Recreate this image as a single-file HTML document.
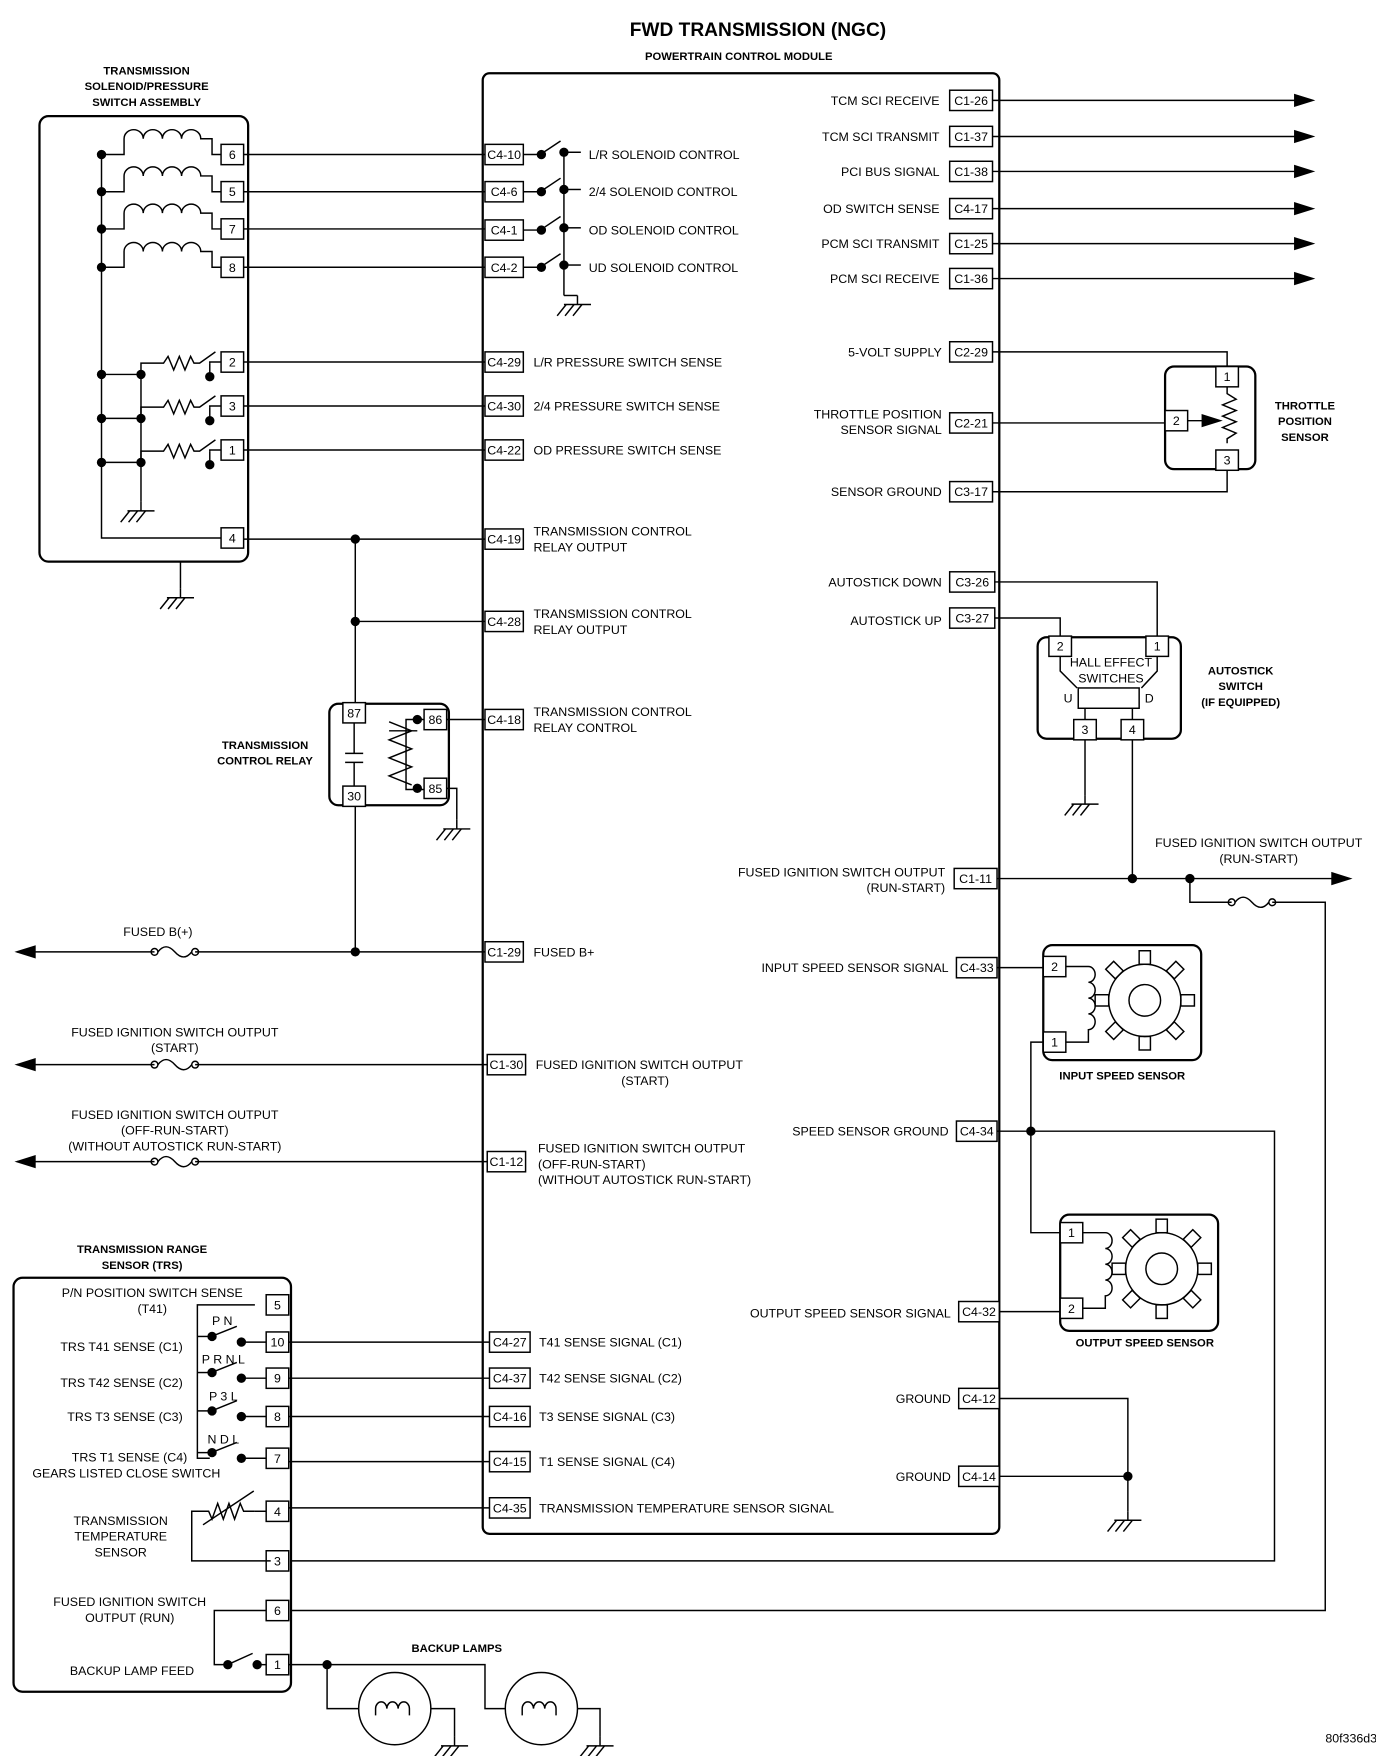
<!DOCTYPE html>
<html><head><meta charset="utf-8"><style>
html,body{margin:0;padding:0;background:#fff}
svg{display:block}
text{font-family:"Liberation Sans",sans-serif;font-size:11px;fill:#000}
</style></head><body>
<svg id="s" width="1376" height="1756" viewBox="0 0 1220 1557" preserveAspectRatio="none" xmlns="http://www.w3.org/2000/svg" fill="none" stroke="#000" stroke-width="1.3">
<text x="672" y="32" text-anchor="middle" style="font-size:17px;font-weight:bold" stroke="none">FWD TRANSMISSION (NGC)</text>
<text x="655" y="53" text-anchor="middle" style="font-size:10px;font-weight:bold" stroke="none">POWERTRAIN CONTROL MODULE</text>
<rect x="428" y="65" width="458" height="1295" rx="6" stroke-width="2"/>
<rect x="35" y="103" width="185" height="395" rx="8" stroke-width="2"/>
<rect x="12" y="1133" width="246" height="367" rx="8" stroke-width="2"/>
<rect x="292" y="624" width="106" height="90" rx="8" stroke-width="2"/>
<rect x="1033" y="325" width="80" height="91" rx="8" stroke-width="2"/>
<rect x="920" y="565" width="127" height="90" rx="8" stroke-width="2"/>
<rect x="925" y="838" width="140" height="102" rx="8" stroke-width="2"/>
<rect x="940" y="1077" width="140" height="103" rx="8" stroke-width="2"/>
</svg>
<script>
var S=document.getElementById('s'),NS='http://www.w3.org/2000/svg';
function el(t,a,txt){var e=document.createElementNS(NS,t);for(var k in a)e.setAttribute(k,a[k]);if(txt!=null)e.textContent=txt;S.appendChild(e);return e}
function L(p){el('polyline',{points:p})}
function T(x,y,s,a,b){el('text',{x:x,y:y,'text-anchor':a||'start',stroke:'none',style:b?'font-weight:bold;font-size:10px':''},s)}
function B(x,y,s,w){w=w||34;el('rect',{x:x,y:y-9,width:w,height:18,fill:'#fff'});T(x+w/2,y+4,s,'middle')}
function P(x,y,s){el('rect',{x:x-10,y:y-9,width:20,height:18,fill:'#fff'});T(x,y+4,s,'middle')}
function D(x,y){el('circle',{cx:x,cy:y,r:3.5,fill:'#000'})}
function G(x,y){L(x+','+(y-8)+' '+x+','+y);L((x-12)+','+y+' '+(x+12)+','+y);for(var i=-10;i<=10;i+=7)L((x+i)+','+y+' '+(x+i-8)+','+(y+10))}
function F(x,y){el('circle',{cx:x-18,cy:y,r:3});el('circle',{cx:x+18,cy:y,r:3});el('path',{d:'M'+(x-15)+','+y+' q7,-9 15,0 q8,9 15,0'})}
function AR(x,y){el('path',{d:'M'+x+','+y+' l-16,-5 l0,10 z',fill:'#000'})}
function AL(x,y){el('path',{d:'M'+x+','+y+' l16,-5 l0,10 z',fill:'#000'})}
// titles
[['TRANSMISSION',66],['SOLENOID/PRESSURE',80],['SWITCH ASSEMBLY',94]].forEach(function(a){T(130,a[1],a[0],'middle',1)});
// solenoid rows
L('90,137 90,477 196,477');
[[137,'6'],[170,'5'],[203,'7'],[237,'8']].forEach(function(r){var y=r[0];D(90,y);
 el('path',{d:'M90,'+y+' h20 v-14 a8.5,8 0 0 1 17,0 a8.5,8 0 0 1 17,0 a8.5,8 0 0 1 17,0 a8.5,8 0 0 1 17,0 h10 v14 h8'});
 L('206,'+y+' 430,'+y);P(206,y,r[1])});
[[321,'2'],[360,'3'],[399,'1']].forEach(function(r,i){var y=r[0],yy=y+11;D(90,yy);
 L('90,'+yy+' 125,'+yy);el('path',{d:'M125,'+yy+' v-10 h20 l4,-6 l5,12 l5,-12 l5,12 l5,-12 l3,6 h5 l14,-10 M186,'+(yy-10)+' v12'});D(186,yy+2);D(125,yy);
 L('216,'+y+' 430,'+y);L('186,'+(yy-10)+' 186,'+y+' 196,'+y);P(206,y,r[1])});
L('125,332 125,445');G(125,453);
P(206,477,'4');G(160,530);L('160,498 160,522');
// left connectors
[[137,'C4-10','L/R SOLENOID CONTROL'],[170,'C4-6','2/4 SOLENOID CONTROL'],[204,'C4-1','OD SOLENOID CONTROL'],[237,'C4-2','UD SOLENOID CONTROL']].forEach(function(r){var y=r[0];
 B(430,y,r[1]);L('464,'+y+' 478,'+y);D(480,y);el('line',{x1:482,y1:y-2,x2:497,y2:y-12});D(500,y-2);L('503,'+(y-2)+' 515,'+(y-2));T(522,y+4,r[2])});
L('500,135 500,262');G(512,270);L('500,262 512,262');
[[321,'C4-29','L/R PRESSURE SWITCH SENSE'],[360,'C4-30','2/4 PRESSURE SWITCH SENSE'],[399,'C4-22','OD PRESSURE SWITCH SENSE'],[844,'C1-29','FUSED B+']].forEach(function(r){B(430,r[0],r[1]);T(473,r[0]+4,r[2])});
[[478,'C4-19','RELAY OUTPUT'],[551,'C4-28','RELAY OUTPUT'],[638,'C4-18','RELAY CONTROL']].forEach(function(r){B(430,r[0],r[1]);T(473,r[0]-3,'TRANSMISSION CONTROL');T(473,r[0]+11,r[2])});
B(432,944,'C1-30');T(475,948,'FUSED IGNITION SWITCH OUTPUT');T(572,962,'(START)','middle');
B(432,1030,'C1-12');T(477,1022,'FUSED IGNITION SWITCH OUTPUT');T(477,1036,'(OFF-RUN-START)');T(477,1050,'(WITHOUT AUTOSTICK RUN-START)');
// relay wiring
L('216,478 430,478');L('315,551 430,551');D(315,478);D(315,551);D(315,844);
L('315,478 315,624');L('315,714 315,844');
P(314,632,'87');P(314,706,'30');P(386,638,'86');P(386,699,'85');
L('314,641 314,668');L('314,676 314,697');L('306,668 322,668');L('306,676 322,676');
L('396,638 430,638');L('376,638 360,638 360,700 376,700');el('path',{d:'M345,640 l20,8 l-20,8 l20,8 l-20,8 l20,8 l-20,8 l20,8'});
L('370,648 345,648');D(370,638);D(370,699);
L('396,699 405,699 405,727');G(405,735);
T(235,664,'TRANSMISSION','middle',1);T(235,678,'CONTROL RELAY','middle',1);
// left arrows
L('15,844 137,844');L('173,844 430,844');F(155,844);AL(15,844);T(140,830,'FUSED B(+)','middle');
L('15,944 137,944');L('173,944 432,944');F(155,944);AL(15,944);T(155,919,'FUSED IGNITION SWITCH OUTPUT','middle');T(155,933,'(START)','middle');
L('15,1030 137,1030');L('173,1030 432,1030');F(155,1030);AL(15,1030);T(155,992,'FUSED IGNITION SWITCH OUTPUT','middle');T(155,1006,'(OFF-RUN-START)','middle');T(155,1020,'(WITHOUT AUTOSTICK RUN-START)','middle');
// right top
[[89,'C1-26','TCM SCI RECEIVE'],[121,'C1-37','TCM SCI TRANSMIT'],[152,'C1-38','PCI BUS SIGNAL'],[185,'C4-17','OD SWITCH SENSE'],[216,'C1-25','PCM SCI TRANSMIT'],[247,'C1-36','PCM SCI RECEIVE']].forEach(function(r){var y=r[0];
 L('880,'+y+' 1162,'+y);AR(1164,y);B(842,y,r[1],38);T(833,y+4,r[2],'end')});
B(842,312,'C2-29',38);T(835,316,'5-VOLT SUPPLY','end');
B(842,375,'C2-21',38);T(835,371,'THROTTLE POSITION','end');T(835,385,'SENSOR SIGNAL','end');
B(842,436,'C3-17',38);T(835,440,'SENSOR GROUND','end');
L('880,312 1088,312 1088,325');L('880,375 1035,375');L('880,436 1088,436 1088,417');
P(1088,334,'1');P(1043,373,'2');P(1088,408,'3');
el('path',{d:'M1088,343 v6 l8,5 l-12,5 l12,5 l-12,5 l12,5 l-12,5 l12,5 l-8,5 v4'});L('1053,373 1070,373');AR(1082,373);
T(1157,363,'THROTTLE','middle',1);T(1157,377,'POSITION','middle',1);T(1157,391,'SENSOR','middle',1);
// autostick
B(842,516,'C3-26',40);T(835,520,'AUTOSTICK DOWN','end');
B(842,548,'C3-27',40);T(835,554,'AUTOSTICK UP','end');
L('882,516 1026,516 1026,565');L('882,548 940,548 940,565');
P(940,573,'2');P(1026,573,'1');P(962,647,'3');P(1004,647,'4');
T(985,591,'HALL EFFECT','middle');T(985,605,'SWITCHES','middle');
el('rect',{x:956,y:610,width:54,height:18});T(947,623,'U','middle');T(1019,623,'D','middle');
L('940,582 940,595 955,610');L('1026,582 1026,595 1012,610');
L('962,628 962,638');L('1004,628 1004,638');
L('962,656 962,705');G(962,713);L('1004,656 1004,779');
T(1100,598,'AUTOSTICK','middle',1);T(1100,612,'SWITCH','middle',1);T(1100,626,'(IF EQUIPPED)','middle',1);
// C1-11
B(846,779,'C1-11',38);T(838,777,'FUSED IGNITION SWITCH OUTPUT','end');T(838,791,'(RUN-START)','end');
L('884,779 1195,779');AR(1197,779);D(1004,779);D(1055,779);
T(1116,751,'FUSED IGNITION SWITCH OUTPUT','middle');T(1116,765,'(RUN-START)','middle');
L('1055,779 1055,800 1092,800');F(1110,800);L('1128,800 1175,800 1175,1428 258,1428');
// speed sensors
function gear(cx,cy){el('circle',{cx:cx,cy:cy,r:32});el('circle',{cx:cx,cy:cy,r:14});for(var i=0;i<8;i++){var a=i*Math.PI/4;el('rect',{x:cx-5,y:cy-44,width:10,height:12,transform:'rotate('+(i*45)+' '+cx+' '+cy+')'})}}
gear(1015,887);gear(1030,1125);
P(935,857,'2');P(935,924,'1');P(950,1093,'1');P(950,1160,'2');
el('path',{d:'M945,857 h20 a6,7 0 0 1 0,14 a6,7 0 0 1 0,14 a6,7 0 0 1 0,14 a6,7 0 0 1 0,14 v11 h-20'});
el('path',{d:'M960,1093 h20 a6,7 0 0 1 0,14 a6,7 0 0 1 0,14 a6,7 0 0 1 0,14 a6,7 0 0 1 0,14 v11 h-20'});
T(995,957,'INPUT SPEED SENSOR','middle',1);T(1015,1194,'OUTPUT SPEED SENSOR','middle',1);
B(848,858,'C4-33',36);T(841,862,'INPUT SPEED SENSOR SIGNAL','end');L('884,858 925,858');
B(848,1003,'C4-34',36);T(841,1007,'SPEED SENSOR GROUND','end');L('884,1003 1130,1003 1130,1384 258,1384');D(914,1003);
L('925,924 914,924 914,1093 940,1093');
B(850,1163,'C4-32',36);T(843,1168,'OUTPUT SPEED SENSOR SIGNAL','end');L('886,1163 940,1163');
B(850,1240,'C4-12',36);T(843,1244,'GROUND','end');B(850,1309,'C4-14',36);T(843,1313,'GROUND','end');
L('886,1240 1000,1240 1000,1340');L('886,1309 1000,1309');D(1000,1309);G(1000,1348);
// TRS
T(126,1111,'TRANSMISSION RANGE','middle',1);T(126,1125,'SENSOR (TRS)','middle',1);
[[1157,'5'],[1190,'10'],[1222,'9'],[1256,'8'],[1293,'7'],[1340,'4'],[1384,'3'],[1428,'6'],[1476,'1']].forEach(function(r){P(246,r[0],r[1])});
[[1190,'C4-27','T41 SENSE SIGNAL (C1)'],[1222,'C4-37','T42 SENSE SIGNAL (C2)'],[1256,'C4-16','T3 SENSE SIGNAL (C3)'],[1296,'C4-15','T1 SENSE SIGNAL (C4)'],[1337,'C4-35','TRANSMISSION TEMPERATURE SENSOR SIGNAL']].forEach(function(r){B(434,r[0],r[1],36);T(478,r[0]+4,r[2]);L('256,'+r[0]+' 434,'+r[0])});
T(135,1150,'P/N POSITION SWITCH SENSE','middle');T(135,1164,'(T41)','middle');
T(162,1198,'TRS T41 SENSE (C1)','end');T(162,1230,'TRS T42 SENSE (C2)','end');T(162,1260,'TRS T3 SENSE (C3)','end');T(166,1296,'TRS T1 SENSE (C4)','end');T(112,1310,'GEARS LISTED CLOSE SWITCH','middle');
T(197,1175,'P N','middle');T(198,1209,'P R N L','middle');T(198,1242,'P 3 L','middle');T(198,1280,'N D L','middle');
L('226,1157 175,1157 175,1293 186,1293');
[1190,1222,1256,1293].forEach(function(y){L('175,'+(y-5)+' 186,'+(y-5));D(188,y-5);el('line',{x1:190,y1:y-6,x2:210,y2:y-14});D(214,y);L('217,'+y+' 236,'+y)});
L('236,1340 226,1340');el('path',{d:'M226,1340 h-10 l-3,-7 l-5,14 l-5,-14 l-5,14 l-5,-14 l-5,14 l-3,-7 h-15 v44 h70'});el('line',{x1:180,y1:1352,x2:225,y2:1322});
T(107,1352,'TRANSMISSION','middle');T(107,1366,'TEMPERATURE','middle');T(107,1380,'SENSOR','middle');
T(115,1424,'FUSED IGNITION SWITCH','middle');T(115,1438,'OUTPUT (RUN)','middle');T(117,1485,'BACKUP LAMP FEED','middle');
L('236,1428 190,1428 190,1476 200,1476');D(202,1476);el('line',{x1:204,y1:1475,x2:224,y2:1466});D(228,1476);L('231,1476 236,1476');
// backup lamps
L('256,1476 430,1476 430,1515 448,1515');D(290,1476);L('290,1476 290,1515 318,1515');
el('circle',{cx:350,cy:1515,r:32});el('circle',{cx:480,cy:1515,r:32});
el('path',{d:'M333,1515 a5,6 0 0 1 10,0 a5,6 0 0 1 10,0 a5,6 0 0 1 10,0 M333,1515 v6 M363,1515 v6'});
el('path',{d:'M463,1515 a5,6 0 0 1 10,0 a5,6 0 0 1 10,0 a5,6 0 0 1 10,0 M463,1515 v6 M493,1515 v6'});
L('382,1515 403,1515 403,1540');G(403,1548);L('512,1515 532,1515 532,1540');G(532,1548);
T(405,1465,'BACKUP LAMPS','middle',1);
T(1198,1545,'80f336d3','middle');
</script>
</body></html>
